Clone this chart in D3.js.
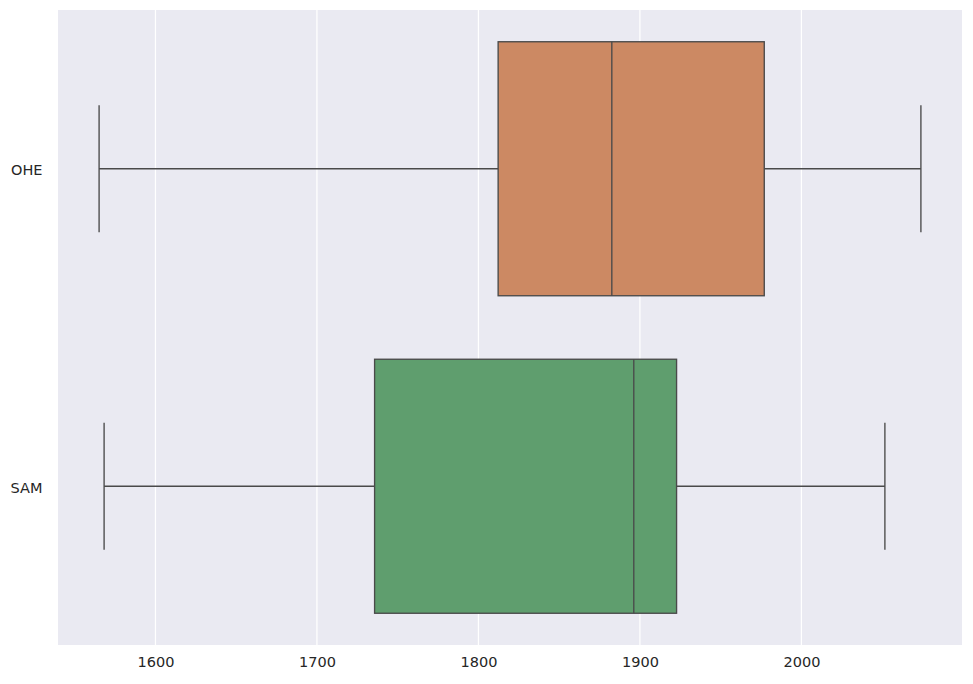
<!DOCTYPE html>
<html>
<head>
<meta charset="utf-8">
<script src="https://cdn.jsdelivr.net/npm/d3@7"></script>
<style>
  html, body { margin: 0; padding: 0; background: #ffffff; }
  svg { display: block; }
</style>
</head>
<body>
<svg id="chart" width="973" height="684"></svg>
<script>
const categories = ["OHE", "SAM"];
const whiskerLow = [1565.1, 1568.2];
const q1 = [1812.2, 1735.7];
const median = [1882.6, 1896.2];
const q3 = [1977.0, 1922.7];
const whiskerHigh = [2074.0, 2051.7];
const boxColors = ["#cc8963", "#5f9e6e"];
const xTicks = [1600, 1700, 1800, 1900, 2000];

const data = categories.map((c, i) => ({
  cat: c, lo: whiskerLow[i], q1: q1[i], med: median[i], q3: q3[i], hi: whiskerHigh[i], color: boxColors[i]
}));

const W = 973, H = 684;
const margin = { left: 58, right: 11, top: 10, bottom: 39 };
const svg = d3.select("#chart");

const dataMin = d3.min(whiskerLow), dataMax = d3.max(whiskerHigh);
const pad = (dataMax - dataMin) * 0.05;
const x = d3.scaleLinear()
  .domain([dataMin - pad, dataMax + pad])
  .range([margin.left, W - margin.right]);
const y = d3.scaleBand()
  .domain(categories)
  .range([margin.top, H - margin.bottom])
  .paddingInner(0).paddingOuter(0);

// background
svg.append("rect")
  .attr("x", margin.left).attr("y", margin.top)
  .attr("width", W - margin.left - margin.right)
  .attr("height", H - margin.top - margin.bottom)
  .attr("fill", "#eaeaf2");

// grid
svg.append("g").selectAll("line").data(xTicks).join("line")
  .attr("x1", d => x(d)).attr("x2", d => x(d))
  .attr("y1", margin.top).attr("y2", H - margin.bottom)
  .attr("stroke", "#ffffff").attr("stroke-width", 1.25);

// axes
const fontFam = "'DejaVu Sans', sans-serif";
const xAxis = svg.append("g")
  .attr("transform", `translate(0,${H - margin.bottom})`)
  .call(d3.axisBottom(x).tickValues(xTicks).tickSize(0).tickPadding(12).tickFormat(d3.format("d")));
xAxis.select(".domain").remove();
xAxis.selectAll("text").attr("font-family", fontFam).attr("font-size", "14.5px").attr("fill", "#262626");

const yAxis = svg.append("g")
  .attr("transform", `translate(${margin.left},0)`)
  .call(d3.axisLeft(y).tickSize(0).tickPadding(15.5));
yAxis.select(".domain").remove();
yAxis.selectAll("text").attr("font-family", fontFam).attr("font-size", "14.5px").attr("fill", "#262626").attr("dy", "0.45em");

const lineColor = "#4a4a4a";
const lw = 1.35;
const boxH = y.bandwidth() * 0.8;
const capH = boxH * 0.5;

const g = svg.append("g").selectAll("g").data(data).join("g");

// whiskers
g.append("line")
  .attr("x1", d => x(d.lo)).attr("x2", d => x(d.q1))
  .attr("y1", d => y(d.cat) + y.bandwidth() / 2).attr("y2", d => y(d.cat) + y.bandwidth() / 2)
  .attr("stroke", lineColor).attr("stroke-width", lw);
g.append("line")
  .attr("x1", d => x(d.q3)).attr("x2", d => x(d.hi))
  .attr("y1", d => y(d.cat) + y.bandwidth() / 2).attr("y2", d => y(d.cat) + y.bandwidth() / 2)
  .attr("stroke", lineColor).attr("stroke-width", lw);
// caps
g.append("line")
  .attr("x1", d => x(d.lo)).attr("x2", d => x(d.lo))
  .attr("y1", d => y(d.cat) + y.bandwidth() / 2 - capH / 2).attr("y2", d => y(d.cat) + y.bandwidth() / 2 + capH / 2)
  .attr("stroke", lineColor).attr("stroke-width", lw);
g.append("line")
  .attr("x1", d => x(d.hi)).attr("x2", d => x(d.hi))
  .attr("y1", d => y(d.cat) + y.bandwidth() / 2 - capH / 2).attr("y2", d => y(d.cat) + y.bandwidth() / 2 + capH / 2)
  .attr("stroke", lineColor).attr("stroke-width", lw);
// box
g.append("rect")
  .attr("x", d => x(d.q1)).attr("width", d => x(d.q3) - x(d.q1))
  .attr("y", d => y(d.cat) + (y.bandwidth() - boxH) / 2).attr("height", boxH)
  .attr("fill", d => d.color).attr("stroke", lineColor).attr("stroke-width", lw);
// median
g.append("line")
  .attr("x1", d => x(d.med)).attr("x2", d => x(d.med))
  .attr("y1", d => y(d.cat) + (y.bandwidth() - boxH) / 2).attr("y2", d => y(d.cat) + (y.bandwidth() + boxH) / 2)
  .attr("stroke", lineColor).attr("stroke-width", lw);
</script>
</body>
</html>
